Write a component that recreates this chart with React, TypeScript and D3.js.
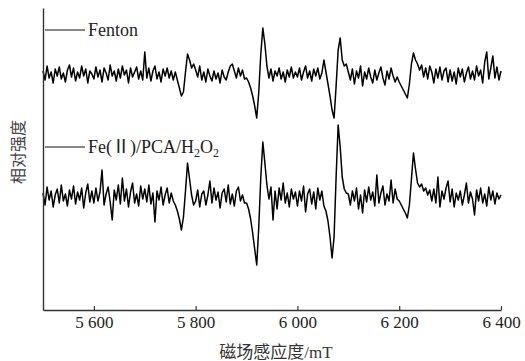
import React, { useEffect, useRef } from 'react';
import * as d3 from 'd3';

const W = 525;
const H = 361;

// sampling grid of the field sweep (mT)
const fields = d3.range(5500, 6401, 4);

// signal values, relative to each trace's baseline
const fentonSignal = [
  3, -6, 8, -4, 2, -9, 5, -2, 7, -5, 1, -8, 4, 9, -3, 6, -7, 2, -4, 8, -2, 5, -9, 3, 0,
  -5, 7, -3, 4, -8, 6, 1, -6, 9, -2, 3, -7, 5, -4, 8, -1, 4, -9, 6, -3, 2, 7, -5, 3, -6,
  22, -4, 6, -7, 3, 8, -5, 2, -8, 5, -2, 6, -4, 3, -6, 2, -6, -14, -22, -18, 2, 20, 14, 6, 10,
  4, -3, 8, -6, 2, -8, 5, -2, -7, 3, -5, 1, -9, 4, -3, -6, 2, 8, 10, 3, -4, 6, -2, 4, -5,
  -4, -8, -14, -22, -32, -44, -18, 20, 46, 30, 8, -4, 5, -7, 3, -2, 6, -5, 2, -8, 4, -3, 7, -4, 2,
  -3, 6, -6, 2, 8, -4, 3, -7, 5, -2, 6, -5, 1, 14, 2, -10, -22, -36, -44, -12, 24, 36, 14, 8, 10,
  2, -6, 5, -10, 3, -4, 8, -12, 2, -5, 6, -3, -9, 4, -6, 1, 7, -4, -11, 3, -5, 6, -2, -8, -3,
  -8, -12, -16, -20, -24, -10, 10, 21, 14, 10, 4, 9, -3, 6, -5, 8, 2, -9, 5, -4, 7, -6, 3, 6, -8,
  4, -7, 2, -10, 6, -3, 5, -8, 1, 7, -5, 3, -6, 8, -2, 4, -9, 12, 22, -5, 6, 18, -4, 7, -6, 3,
];

const feSignal = [
  4, -8, 10, -3, 6, -10, 2, 8, -6, 12, -4, 3, -9, 7, -2, 11, -7, 5, -3, 9, -11, 4, 13, -5, 6,
  -6, 9, -4, 5, 27, -8, 3, 10, -5, -23, 7, -3, 12, -7, 19, -4, 8, -10, 5, 14, -6, 3, -9, 11, -2,
  8, -5, 12, -7, 4, -25, 6, -3, 10, -8, 2, 9, -6, 4, -4, -8, -14, -22, -33, -20, 6, 34, 18, 2, -8,
  -4, 7, -10, 3, 6, -8, 2, 16, -6, 9, -3, 5, -11, 4, 8, -5, 12, -7, 3, -9, 6, 10, -4, 2, -6,
  -6, -12, -22, -36, -52, -68, -30, 20, 55, 34, 12, -2, 10, -23, 6, -12, 9, -3, 14, -6, 4, -10, 8, -2, 5,
  -9, 6, -4, 11, -15, 3, 8, -7, 5, -12, 9, -3, 6, -9, -14, -24, -40, -61, -40, 20, 72, 50, 20, 8, 4,
  3, -8, 6, -4, 9, -12, 2, -16, 7, -5, 10, -3, 5, -9, 22, -6, 4, 11, -8, 3, -4, 17, -6, 8, -2,
  -4, -8, -12, -16, -21, -8, 18, 44, 28, 14, 10, 13, 6, 9, 2, 7, -4, 8, -6, 20, -10, 6, -2, 9, 16,
  -5, 8, -10, 4, -3, 6, -8, 2, 14, -6, 5, -2, -18, 7, -4, 9, -6, 3, -9, 10, -3, 6, -7, 4, -2, 2,
];

const seriesNames = ['Fenton', 'Fe(Ⅱ)/PCA/H2O2'];
const seriesOffsets = [236, 113];
const xTicks = [5600, 5800, 6000, 6200, 6400];

const serif = '"Liberation Serif", "Times New Roman", "Noto Sans CJK SC", serif';
const cjk = '"Noto Sans CJK SC", sans-serif';

const fmt = d3.formatLocale({ decimal: '.', thousands: ' ', grouping: [3], currency: ['', ''] }).format(',');

export default function App() {
  const xAxisRef = useRef<SVGGElement>(null);
  const yAxisRef = useRef<SVGGElement>(null);

  const x = d3.scaleLinear().domain([5500, 6400]).range([43, 501]);
  const y = d3.scaleLinear().domain([0, 302]).range([310, 8]);

  const traces = [fentonSignal, feSignal].map((vals, i) => ({
    name: seriesNames[i],
    points: fields.map((f, j) => [f, seriesOffsets[i] + vals[j]] as [number, number]),
  }));

  const line = d3.line<[number, number]>().x(d => x(d[0])).y(d => y(d[1]));

  useEffect(() => {
    const gx = d3.select(xAxisRef.current);
    gx.selectAll('*').remove();
    gx.call(
      d3.axisBottom(x).tickValues(xTicks).tickSizeInner(-4).tickSizeOuter(0).tickPadding(6).tickFormat(d => fmt(d as number))
    );
    gx.select('.domain').attr('stroke', '#333').attr('stroke-width', 1.4);
    gx.selectAll('.tick line').attr('stroke', '#333').attr('stroke-width', 1.2);
    gx.selectAll('.tick text').attr('fill', '#222').attr('font-size', 17).attr('font-family', serif);

    const gy = d3.select(yAxisRef.current);
    gy.selectAll('*').remove();
    gy.call(d3.axisLeft(y).tickValues([]).tickSizeOuter(0));
    gy.select('.domain').attr('stroke', '#333').attr('stroke-width', 1.4);
  }, []);

  return (
    <div style={{ position: 'absolute', left: 0, top: 0 }}>
      <svg width={W} height={H} style={{ display: 'block', background: '#fff' }}>
        {traces.map(t => (
          <path key={t.name} d={line(t.points) || ''} fill="none" stroke="#000" strokeWidth={1.5} strokeLinejoin="round" />
        ))}
        <g ref={xAxisRef} transform={`translate(0,${y(0)})`} />
        <g ref={yAxisRef} transform={`translate(${x(5500)},0)`} />

        {/* legend labels */}
        <line x1={45} x2={85} y1={30} y2={30} stroke="#111" strokeWidth={1.2} />
        <text x={88} y={36} fontFamily={serif} fontSize={18} fill="#222">Fenton</text>
        <line x1={45} x2={85} y1={147} y2={147} stroke="#111" strokeWidth={1.2} />
        <text x={88} y={153} fontFamily={serif} fontSize={18} fill="#222">
          Fe(Ⅱ)/PCA/H<tspan fontSize={12} dy={4}>2</tspan>
          <tspan dy={-4}>O</tspan>
          <tspan fontSize={12} dy={4}>2</tspan>
        </text>

        <text transform="translate(24,152) rotate(-90)" textAnchor="middle" fontFamily={cjk} fontSize={16} fill="#444">
          相对强度
        </text>
        <text x={276} y={358} textAnchor="middle" fontFamily={serif} fontSize={17} fill="#333">
          磁场感应度/mT
        </text>
      </svg>
    </div>
  );
}
